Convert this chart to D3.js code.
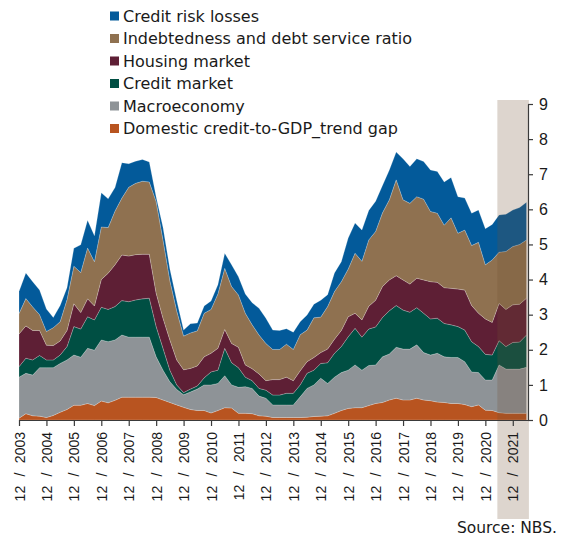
<!DOCTYPE html>
<html>
<head>
<meta charset="utf-8">
<script src="https://cdn.jsdelivr.net/npm/d3@7"></script>
<style>
  html, body { margin: 0; padding: 0; background: #ffffff; }
  svg { display: block; font-family: "DejaVu Sans", Verdana, sans-serif; }
</style>
</head>
<body>
<svg id="chart" width="562" height="539"></svg>
<script>
// Quarterly observations, 12/2003 through 6/2022 (75 quarters)
const gap = [.05,.18,.12,.11,.07,.13,.22,.30,.42,.42, .47,.41,.54,.49,.56,.65,.65,.65,.65,.65,
  .64,.57,.50,.43,.36,.30,.27,.27,.20,.27, .35,.34,.19,.19,.18,.12,.11,.07,.07,.07,
  .07,.07,.08,.10,.11,.12,.19,.27,.33,.35, .35,.41,.47,.50,.57,.62,.57,.57,.62,.57,
  .55,.51,.50,.47,.47,.44,.38,.43,.28,.27, .21,.19,.19,.19,.19];
const macro = [1.17,1.15,1.16,1.38,1.42,1.36,1.39,1.41,1.43,1.37, 1.57,1.58,1.74,1.74,1.72,1.77,1.71,1.71,1.71,1.71,
  1.16,.85,.59,.44,.36,.50,.61,.73,.80,.77, .91,.66,.74,.76,.72,.56,.51,.36,.36,.36,
  .36,.59,.82,.90,1.08,.92,1.03,1.08,1.09,1.22, 1.07,1.14,1.10,1.30,1.31,1.45,1.45,1.45,1.52,1.35,
  1.30,1.39,1.30,1.31,1.31,1.22,.99,.92,.86,.87, 1.36,1.26,1.26,1.26,1.31];
const creditMkt = [.30,.43,.43,.35,.22,.22,.24,.38,.81,.80, .90,.86,.93,.92,.95,.98,1.01,1.06,1.09,1.11,
  .86,.62,.33,.13,.06,.08,.09,.20,.37,.38, .78,.63,.56,.27,.22,.22,.23,.28,.28,.33,
  .33,.34,.43,.42,.42,.59,.68,.74,.95,1.04, .94,1.04,1.08,1.12,1.23,1.19,1.11,1.05,1.06,1.12,
  1.03,1.00,.95,.93,.88,.90,.86,.74,.73,.71, .69,.64,.76,.77,.92];
const housing = [.93,.92,.84,.71,.42,.41,.40,.46,.65,.47, .51,.40,.79,1.03,1.19,1.30,1.30,1.29,1.27,1.25,
  .95,.86,.86,.71,.65,.59,.57,.60,.53,.62, .54,.55,.58,.35,.34,.41,.27,.44,.44,.46,
  .36,.40,.33,.36,.31,.39,.40,.46,.57,.43, .49,.65,.76,.88,.88,.85,.86,.80,.84,.95,
  1.06,1.02,1.02,1.04,1.07,1.14,1.03,.95,1.01,.93, 1.06,1.06,1.07,1.08,1.05];
const debt = [.58,.78,.67,.45,.39,.51,.55,.88,1.07,1.14, 1.45,1.26,1.50,1.30,1.53,1.62,1.96,2.03,2.08,2.06,
  2.61,2.23,1.69,1.40,.96,1.01,1.00,1.24,1.25,1.55, 1.74,1.62,1.49,1.47,1.25,1.11,1.06,.86,.86,.94,
  .89,1.03,.90,1.13,1.01,1.21,1.36,1.39,1.36,1.71, 1.67,1.89,1.96,2.10,2.28,2.73,2.28,2.30,2.32,2.30,
  2.00,1.97,1.78,2.01,1.59,1.71,1.71,2.02,1.54,1.78, 1.46,1.65,1.66,1.70,1.66];
const losses = [.63,.73,.72,.70,.64,.29,.46,.34,.51,.79, .79,.74,.97,.82,.67,1.01,.67,.63,.62,.57,
  .13,.35,.33,.29,.17,.26,.22,.21,.24,.26, .43,.62,.52,.55,.63,.76,.72,.55,.54,.44,
  .49,.37,.43,.39,.48,.34,.53,.57,.88,.86, .89,.84,.86,.78,.85,.79,1.17,1.05,1.08,1.07,
  1.18,1.19,1.23,1.15,1.04,.91,.92,.92,1.03,1.01, 1.06,1.06,1.04,1.05,1.07];

// Stack order, bottom to top
const seriesKeys = ["gap", "macro", "creditMkt", "housing", "debt", "losses"];
const seriesNames = {
  losses: "Credit risk losses",
  debt: "Indebtedness and debt service ratio",
  housing: "Housing market",
  creditMkt: "Credit market",
  macro: "Macroeconomy",
  gap: "Domestic credit-to-GDP_trend gap"
};
const seriesColors = {
  losses: "#035a9a",
  debt: "#8f7150",
  housing: "#5e1f35",
  creditMkt: "#004f43",
  macro: "#8e9397",
  gap: "#b85420"
};
const legendOrder = ["losses", "debt", "housing", "creditMkt", "macro", "gap"];

// Year-end tick labels (every fourth quarter)
const tickLabels = ["12 / 2003","12 / 2004","12 / 2005","12 / 2006","12 / 2007","12 / 2008",
  "12 / 2009","12 / 2010","12 / 2011","12 / 2012","12 / 2013","12 / 2014","12 / 2015",
  "12 / 2016","12 / 2017","12 / 2018","12 / 2019","12 / 2020","12 / 2021"];
const tickIndex = tickLabels.map((_, i) => i * 4);
const yTicks = [0,1,2,3,4,5,6,7,8,9];

// Highlighted period (quarter index range)
const highlight = [69.75, 74.35];

const series = { gap, macro, creditMkt, housing, debt, losses };
const rows = gap.map((_, i) => {
  const r = { i };
  seriesKeys.forEach(k => r[k] = series[k][i]);
  return r;
});

const svg = d3.select("#chart");
const x = d3.scaleLinear().domain([0, gap.length - 1]).range([19, 526.5]);
const y = d3.scaleLinear().domain([0, 9]).range([420, 104]);

const stacked = d3.stack().keys(seriesKeys)(rows);
const area = d3.area()
  .x(d => x(d.data.i))
  .y0(d => y(d[0]))
  .y1(d => y(d[1]));

svg.append("g").selectAll("path")
  .data(stacked)
  .join("path")
  .attr("d", area)
  .attr("fill", d => seriesColors[d.key])
  .attr("stroke", "rgba(255,255,255,0.35)")
  .attr("stroke-width", 0.6)
  .attr("stroke-linejoin", "round");

// Shaded band over the latest quarters
svg.append("rect")
  .attr("x", x(highlight[0]))
  .attr("width", x(highlight[1]) - x(highlight[0]))
  .attr("y", 100)
  .attr("height", 419)
  .attr("fill", "rgb(113,80,51)")
  .attr("fill-opacity", 0.24);

// X axis
const xAxis = svg.append("g")
  .attr("transform", `translate(0,${y(0)})`)
  .call(d3.axisBottom(x)
    .tickValues(tickIndex)
    .tickFormat((d, i) => tickLabels[i])
    .tickSize(6)
    .tickSizeOuter(0));
xAxis.select(".domain").attr("stroke", "#3a3a3a").attr("stroke-width", 1.2)
  .attr("d", `M${x(0)},0.5H528`);
xAxis.selectAll(".tick line").attr("stroke", "#3a3a3a").attr("stroke-width", 1.2);
xAxis.selectAll(".tick text")
  .attr("font-size", 14)
  .attr("fill", "#1a1a1a")
  .attr("text-anchor", "end")
  .attr("transform", "translate(5,12) rotate(-90)")
  .attr("x", 0).attr("y", 0).attr("dy", 0)
  .each(function(d, i) {
    // "12 / 2003": month, slash and year with a little extra air around the slash
    const [m, yr] = tickLabels[i].split(" / ");
    const t = d3.select(this).text(m + "\u00a0");
    t.append("tspan").attr("dx", 5.5).text("/\u00a0");
    t.append("tspan").attr("dx", 5.5).text(yr);
  });

// Y axis on the right
const yAxis = svg.append("g")
  .attr("transform", "translate(528,0)")
  .call(d3.axisRight(y)
    .tickValues(yTicks)
    .tickFormat(d3.format("d"))
    .tickSize(5)
    .tickPadding(6)
    .tickSizeOuter(0));
yAxis.select(".domain").attr("stroke", "#3a3a3a").attr("stroke-width", 1.2);
yAxis.selectAll(".tick line").attr("stroke", "#3a3a3a").attr("stroke-width", 1.2);
yAxis.selectAll(".tick text").attr("font-size", 16).attr("fill", "#1a1a1a");

// Legend
const legend = svg.append("g").attr("transform", "translate(110,16)");
legendOrder.forEach((k, i) => {
  const g = legend.append("g").attr("transform", `translate(0,${i * 22.5})`);
  g.append("rect").attr("x", 0).attr("y", -4.5).attr("width", 9).attr("height", 9)
    .attr("fill", seriesColors[k]);
  g.append("text").attr("x", 13).attr("y", 5.6)
    .attr("font-size", 16).attr("fill", "#1a1a1a")
    .text(seriesNames[k]);
});

// Source note
svg.append("text")
  .attr("x", 557).attr("y", 533)
  .attr("text-anchor", "end")
  .attr("font-size", 15.5)
  .attr("fill", "#1a1a1a")
  .text("Source: NBS.");
</script>
</body>
</html>
